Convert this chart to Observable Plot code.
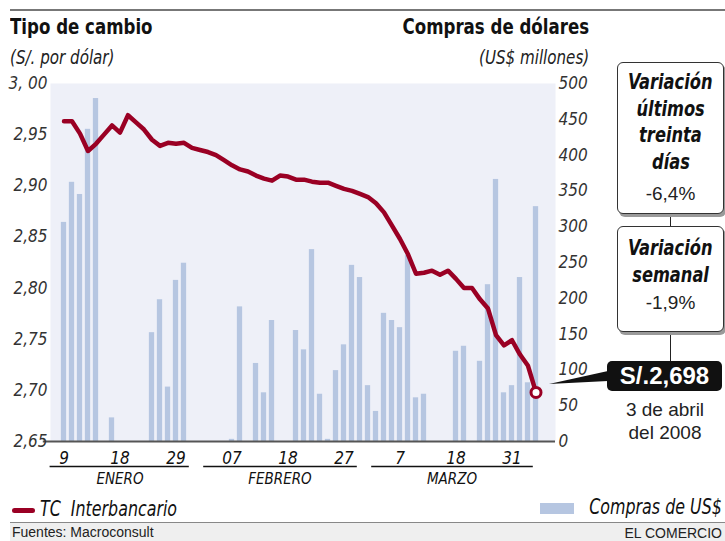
<!DOCTYPE html>
<html>
<head>
<meta charset="utf-8">
<script src="https://cdn.jsdelivr.net/npm/d3@7"></script>
<script src="https://cdn.jsdelivr.net/npm/@observablehq/plot@0.6"></script>
<style>
  html, body { margin: 0; padding: 0; background: #fff; }
  body { width: 725px; height: 541px; overflow: hidden; position: relative;
    font-family: "Liberation Sans Narrow", "DejaVu Sans Condensed", "Roboto Condensed", sans-serif; font-stretch: condensed; color: #111; }
  .abs { position: absolute; white-space: nowrap; }
  .sx { display: inline-block; transform: scaleX(0.84); transform-origin: left center; }
  .sxr { display: inline-block; transform: scaleX(0.84); transform-origin: right center; }
  .sxc { display: inline-block; transform: scaleX(0.86); transform-origin: center center; }
  #chart { position: absolute; left: 0; top: 0; }
  .title { font-weight: bold; font-size: 22px; }
  .sub { font-style: italic; font-size: 20px; color: #222; }
  .box { position: absolute; border: 1px solid #333; border-radius: 6px; background: #fff;
    box-shadow: 2px 3px 0 #9a9a9a; text-align: center; }
  .box .t { font-weight: bold; font-style: italic; font-size: 21px; line-height: 26.5px; }
  .box .v { font-family: "Liberation Sans", "DejaVu Sans", sans-serif; font-stretch: normal; font-size: 19px; line-height: 28px; color: #222; }
  .conn { position: absolute; width: 1px; background: #222; }
  .legend { font-style: italic; font-size: 21px; }
  .foot { font-family: "Liberation Sans", "DejaVu Sans", sans-serif; font-stretch: normal; font-size: 14px; color: #222; }
</style>
</head>
<body>
<div class="abs" style="left:10px;top:9px;width:715px;height:2px;background:#777;"></div>
<div class="abs title" style="left:10px;top:14px;"><span class="sx">Tipo de cambio</span></div>
<div class="abs sub" style="left:10px;top:45px;"><span class="sx">(S/. por dólar)</span></div>
<div class="abs title" style="right:136px;top:14px;"><span class="sxr">Compras de dólares</span></div>
<div class="abs sub" style="right:136px;top:45px;"><span class="sxr">(US$ millones)</span></div>

<div id="chart"></div>

<svg class="abs" style="left:0;top:0;" width="725" height="541">
  <polygon points="549,384 608,371 608,381" fill="#111"/>
</svg>

<div class="conn" style="left:670px;top:213px;height:14px;"></div>
<div class="conn" style="left:670px;top:330px;height:32px;"></div>
<div class="box" style="left:617px;top:62px;width:105px;height:150px;">
  <div class="t" style="margin-top:6px;"><span class="sxc">Variación</span></div>
  <div class="t"><span class="sxc">últimos</span></div>
  <div class="t"><span class="sxc">treinta</span></div>
  <div class="t"><span class="sxc">días</span></div>
  <div class="v" style="margin-top:5px;">-6,4%</div>
</div>
<div class="box" style="left:617px;top:226px;width:105px;height:104px;">
  <div class="t" style="margin-top:8px;"><span class="sxc">Variación</span></div>
  <div class="t"><span class="sxc">semanal</span></div>
  <div class="v" style="margin-top:1px;">-1,9%</div>
</div>
<div class="abs" style="left:607px;top:361px;width:115px;height:30px;background:#111;border-radius:5px;color:#fff;
  font-family:'Liberation Sans','DejaVu Sans',sans-serif;font-stretch:normal;font-weight:bold;font-size:24px;line-height:30px;text-align:center;">S/.2,698</div>
<div class="abs" style="left:605px;top:398px;width:120px;text-align:center;font-family:'Liberation Sans','DejaVu Sans',sans-serif;font-size:19px;line-height:23px;color:#222;">3 de abril<br>del 2008</div>

<div class="abs" style="left:12px;top:508px;width:23px;height:5px;background:#9a0024;border-radius:3px;"></div>
<div class="abs legend" style="left:40px;top:497px;"><span class="sx">TC&nbsp; Interbancario</span></div>
<div class="abs" style="left:540px;top:503px;width:34px;height:11px;background:#b6c6e1;"></div>
<div class="abs legend" style="right:3px;top:495px;"><span class="sxr">Compras de US$</span></div>

<div class="abs" style="left:10px;top:522px;width:715px;height:19px;background:#efefef;border-top:1px solid #888;"></div>
<div class="abs foot" style="left:12px;top:524px;">Fuentes: Macroconsult</div>
<div class="abs foot" style="right:3px;top:525px;">EL COMERCIO</div>

<script>
// ---- data ----
const dias = [
  "01-09","01-10","01-11","01-14","01-15","01-16","01-17","01-18","01-21","01-22",
  "01-23","01-24","01-25","01-28","01-29","01-30","01-31",
  "02-01","02-04","02-05","02-06","02-07","02-08","02-11","02-12","02-13","02-14",
  "02-15","02-18","02-19","02-20","02-21","02-22","02-25","02-26","02-27","02-28","02-29",
  "03-03","03-04","03-05","03-06","03-07","03-10","03-11","03-12","03-13","03-14",
  "03-17","03-18","03-19","03-24","03-25","03-26","03-27","03-28","03-31",
  "04-01","04-02","04-03"
];
const tipoCambio = [
  2.963,2.963,2.951,2.934,2.941,2.950,2.959,2.952,2.969,2.962,
  2.955,2.945,2.939,2.942,2.941,2.942,2.937,
  2.935,2.933,2.930,2.925,2.920,2.916,2.914,2.910,2.907,2.905,
  2.910,2.909,2.906,2.906,2.904,2.903,2.903,2.900,2.897,2.895,2.892,
  2.889,2.883,2.874,2.861,2.848,2.833,2.814,2.815,2.817,2.813,
  2.817,2.809,2.800,2.800,2.789,2.780,2.754,2.744,2.749,
  2.735,2.724,2.698
];
const compras = [
  306,362,345,436,479,null,33,null,null,null,
  null,152,198,76,225,249,null,
  null,null,null,null,3,188,null,109,68,169,
  null,null,155,128,268,66,3,99,135,246,229,
  78,42,179,169,159,260,61,66,null,null,
  null,126,133,null,112,219,366,68,78,
  229,82,328
];
const diasEtiqueta = ["01-09","01-18","01-29","02-07","02-18","02-27","03-07","03-18","03-31"];
const etiquetasX = ["9","18","29","07","18","27","7","18","31"];
const meses = ["ENERO","FEBRERO","MARZO"];
const mesDias = [["01-09","01-31"],["02-01","02-29"],["03-03","04-03"]];
const ticksIzq = [2.65,2.70,2.75,2.80,2.85,2.90,2.95,3.00];
const etiquetasIzq = ["2,65","2,70","2,75","2,80","2,85","2,90","2,95","3, 00"];
const ticksDer = [0,50,100,150,200,250,300,350,400,450,500];

// ---- derived ----
const tcMin = 2.65, tcMax = 3.00, cMax = 500;
const toY = v => (v - tcMin) / (tcMax - tcMin) * cMax;
const idx = d => dias.indexOf(d);
const serie = dias.map((d, i) => ({i, tc: tipoCambio[i], c: compras[i]}));
const barras = serie.filter(d => d.c != null);
const ultimo = serie[serie.length - 1];
const ticksX = diasEtiqueta.map((d, k) => ({i: idx(d), t: etiquetasX[k]}));
const mesesData = meses.map((m, k) => {
  const a = idx(mesDias[k][0]), b = idx(mesDias[k][1]);
  return {m, a: a + 0.4 - (k === 0 ? 2.2 : 0), b: b - 0.4, c: (a + b) / 2 - (k === 0 ? 1 : 0)};
});

const xDomain = [-1.6875, 61.4375];
const ff = '"Liberation Sans Narrow", "DejaVu Sans Condensed", sans-serif';

const plot = Plot.plot({
  width: 725, height: 541,
  marginLeft: 50, marginRight: 170, marginTop: 83, marginBottom: 100,
  style: {fontFamily: ff, background: "transparent", overflow: "visible"},
  x: {domain: xDomain, axis: null},
  y: {domain: [0, cMax], axis: null},
  marks: [
    Plot.frame({fill: "#eef0f8", stroke: null}),
    Plot.rectY(barras, {x1: d => d.i - 0.33, x2: d => d.i + 0.33, y1: 0, y2: "c", fill: "#b6c6e1"}),
    Plot.ruleY([0], {x1: xDomain[0] - 0.9, x2: xDomain[1], stroke: "#555", strokeWidth: 2}),
    Plot.line(serie, {x: "i", y: d => toY(d.tc), stroke: "#9a0024", strokeWidth: 4.5, strokeLinejoin: "round", strokeLinecap: "round"}),
    Plot.dot([ultimo], {x: "i", y: d => toY(d.tc), r: 5, fill: "#fff", stroke: "#9a0024", strokeWidth: 3}),
    Plot.text(ticksIzq, {y: d => toY(d), text: (d, k) => etiquetasIzq[k], frameAnchor: "left", textAnchor: "end", dx: -3,
      fontSize: 17, fontStyle: "italic", fill: "#333"}),
    Plot.text(ticksDer, {y: d => d, text: d => String(d), frameAnchor: "right", textAnchor: "start", dx: 3,
      fontSize: 17, fontStyle: "italic", fill: "#333"}),
    Plot.text(ticksX, {x: "i", y: 0, text: "t", dy: 17, fontSize: 17, fontStyle: "italic", fill: "#111"}),
    Plot.link(mesesData, {x1: "a", x2: "b", y1: 0, y2: 0, dy: 25, stroke: "#111", strokeWidth: 1.3}),
    Plot.text(mesesData, {x: "c", y: 0, text: "m", dy: 38, fontSize: 15, fontStyle: "italic", fill: "#111"})
  ]
});
document.getElementById("chart").appendChild(plot);
</script>
</body>
</html>
